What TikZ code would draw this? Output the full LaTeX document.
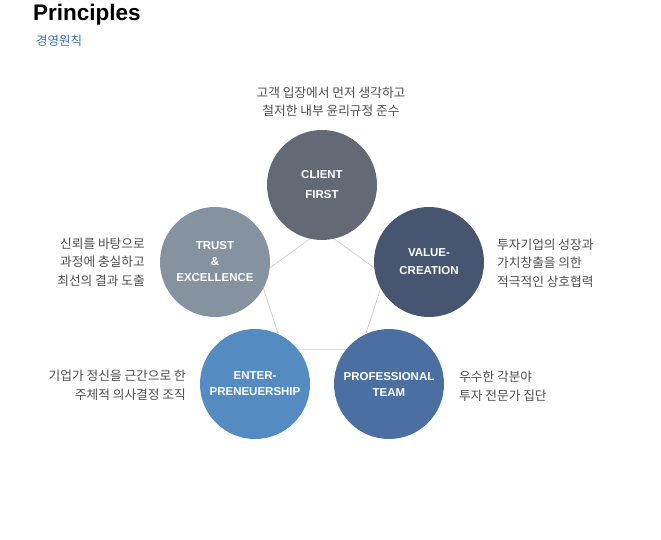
\documentclass[tikz,border=0pt]{standalone}
\usepackage{fontspec}
\setmainfont{Liberation Sans}
\newfontfamily\kofont{Noto Sans CJK KR}
\usepackage{tikz}

\definecolor{clientcol}{HTML}{636975}
\definecolor{trustcol}{HTML}{84939F}
\definecolor{valuecol}{HTML}{475570}
\definecolor{entercol}{HTML}{548BC0}
\definecolor{profcol}{HTML}{4A6FA0}
\definecolor{subcol}{HTML}{3D6FB0}
\definecolor{txtcol}{HTML}{4D4D4D}

\tikzset{
    circ/.style={circle, minimum size=110pt, inner sep=0pt, text=white,
        font=\fontsize{11.5}{16}\selectfont\bfseries, align=center},
    desc/.style={text=txtcol, font=\kofont\fontsize{12.7}{18.5}\selectfont, inner sep=0pt}
}

\begin{document}
\begin{tikzpicture}[x=1pt,y=-1pt]
        % 배경
        \useasboundingbox[fill=white] (0,0) rectangle (661,540);

        % 제목
        \node[anchor=base west, inner sep=0pt, font=\fontsize{22.5}{24}\selectfont\bfseries] (title) at (33,20.5) {Principles};
        \node[anchor=base west, inner sep=0pt, text=subcol, font=\kofont\fontsize{12.5}{14}\selectfont] (subtitle) at (36,46) {경영원칙};

        % 오각형
        \foreach \i/\a in {1/90, 2/162, 3/234, 4/306, 5/18}
            \coordinate (p\i) at ({322+66*cos(\a)},{296-66*sin(\a)});
        \draw[black!20, line width=0.6pt] (p1) -- (p2) -- (p3) -- (p4) -- (p5) -- cycle;

        % 원
        \node[circ, fill=clientcol, font=\fontsize{11.5}{20}\selectfont\bfseries] (client) at (322,185) {CLIENT\\FIRST};
        \node[circ, fill=trustcol] (trust) at (215,262) {TRUST\\\&\\EXCELLENCE};
        \node[circ, fill=valuecol, font=\fontsize{11.5}{18}\selectfont\bfseries] (value) at (429,262) {VALUE-\\CREATION};
        \node[circ, fill=entercol] (enter) at (255,384) {ENTER-\\PRENEUERSHIP};
        \node[circ, fill=profcol] (prof) at (389,384) {PROFESSIONAL\\TEAM};

        % 설명
        \node[desc, align=center] (clientdesc) at (331,102) {고객 입장에서 먼저 생각하고\\철저한 내부 윤리규정 준수};
        \node[desc, align=right, anchor=east] (trustdesc) at (145,262) {신뢰를 바탕으로\\과정에 충실하고\\최선의 결과 도출};
        \node[desc, align=left, anchor=west] (valuedesc) at (497,263) {투자기업의 성장과\\가치창출을 의한\\적극적인 상호협력};
        \node[desc, align=right, anchor=east] (enterdesc) at (186,385) {기업가 정신을 근간으로 한\\주체적 의사결정 조직};
        \node[desc, align=left, anchor=west] (profdesc) at (459,386) {우수한 각분야\\투자 전문가 집단};
\end{tikzpicture}
\end{document}
